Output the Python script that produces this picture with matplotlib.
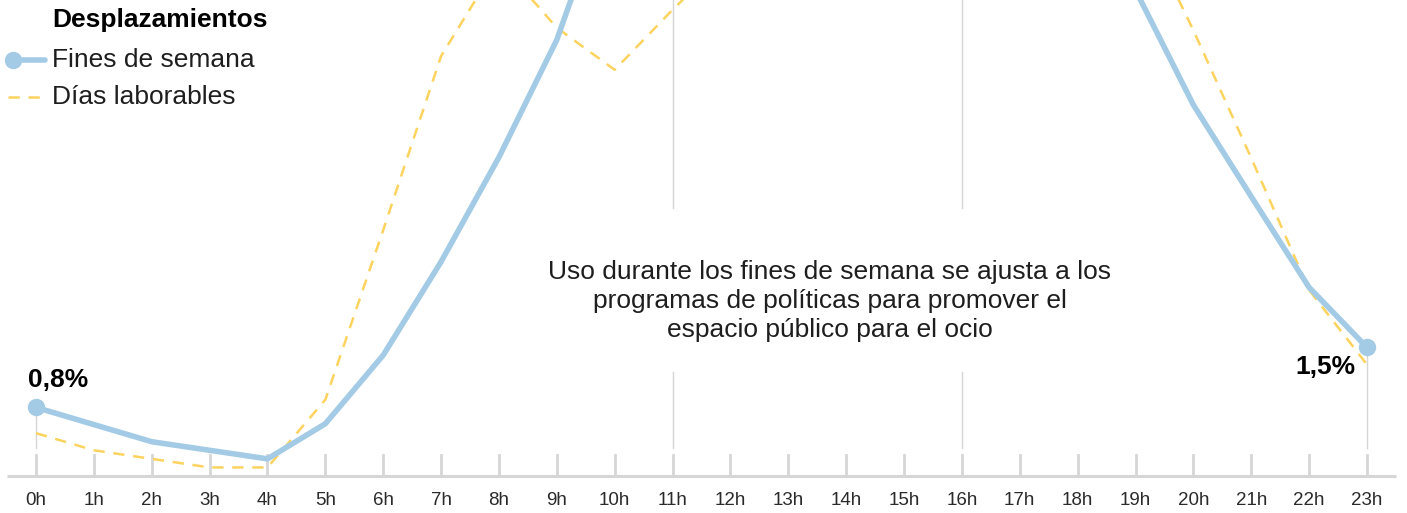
import numpy as np
import matplotlib
matplotlib.use("Agg")
import matplotlib.pyplot as plt

# ── 데이터 ────────────────────────────────────────────────────────────────
hours = list(range(24))
hour_labels = [f"{h}h" for h in hours]

# % de desplazamientos por hora (el centro del día queda recortado por arriba)
fines_semana = [0.80, 0.60, 0.40, 0.30, 0.20, 0.61, 1.41, 2.50, 3.72, 5.09,
                7.00, 7.20, 7.10, 6.90, 6.70, 6.60, 6.80, 6.90, 6.50, 5.67,
                4.33, 3.26, 2.20, 1.50]
dias_laborables = [0.50, 0.30, 0.20, 0.10, 0.10, 0.89, 2.87, 4.90, 6.00, 5.23,
                   4.74, 5.44, 6.10, 6.30, 6.20, 6.00, 6.20, 6.60, 6.80, 6.60,
                   5.20, 3.71, 2.17, 1.30]

BLUE = "#a3cbe5"
YELLOW = "#fdd35f"
GRID = "#d6d6d6"
FONT = "Liberation Sans"

W, H = 1407, 513
PX_H = (1367 - 36) / 23      # px por hora
PX_V = 85.7                   # px por 1 %
Y0 = 476                      # píxel de la línea base

fig = plt.figure(figsize=(W / 100, H / 100), dpi=100)
ax = fig.add_axes([0, 0, 1, 1])
ax.set_xlim(-36 / PX_H, 23 + (W - 1367) / PX_H)
ax.set_ylim(-(H - Y0) / PX_V, Y0 / PX_V)
ax.axis("off")

# línea base y marcas
ax.plot([-0.5, 23.5], [0, 0], color=GRID, lw=2.2, solid_capstyle="butt", zorder=1)
for h in hours:
    ax.plot([h, h], [0, 0.245], color=GRID, lw=2, zorder=1)
    ax.text(h, -0.29, hour_labels[h], ha="center", va="center",
            fontsize=13.5, color="#2a2a2a", family=FONT)

# líneas de referencia
for h in (11, 16):
    ax.plot([h, h], [3.13, 6], color=GRID, lw=1, zorder=1)
    ax.plot([h, h], [0.33, 1.21], color=GRID, lw=1, zorder=1)
ax.plot([0, 0], [0.33, fines_semana[0]], color=GRID, lw=1, zorder=1)
ax.plot([23, 23], [0.33, fines_semana[-1]], color=GRID, lw=1, zorder=1)

# series
ax.plot(hours, dias_laborables, color=YELLOW, lw=1.8, ls=(0, (4.5, 3.5)), zorder=2)
ax.plot(hours, fines_semana, color=BLUE, lw=4, zorder=3,
        solid_joinstyle="round", solid_capstyle="round")
ax.plot([hours[0], hours[-1]], [fines_semana[0], fines_semana[-1]], "o",
        color=BLUE, ms=11.5, zorder=4)

# etiquetas de extremos
ax.text(-0.14, 1.12, "0,8%", ha="left", va="center", fontsize=19,
        fontweight="bold", family=FONT)
ax.text(22.8, 1.27, "1,5%", ha="right", va="center", fontsize=19,
        fontweight="bold", family=FONT)

# anotación
ax.text(13.72, 2.04,
        "Uso durante los fines de semana se ajusta a los\n"
        "programas de políticas para promover el\n"
        "espacio público para el ocio",
        ha="center", va="center", fontsize=19, linespacing=1.27,
        color="#1e1e1e", family=FONT)

# leyenda manual
def px(x, y):
    return ax.transData.inverted().transform(fig.transFigure.transform((x / W, 1 - y / H)))

tx, ty = px(52, 20)
ax.text(tx, ty, "Desplazamientos", ha="left", va="center", fontsize=19,
        fontweight="bold", family=FONT)
tx, ty = px(52, 60)
ax.text(tx, ty, "Fines de semana", ha="left", va="center", fontsize=19,
        color="#1e1e1e", family=FONT)
tx, ty = px(52, 97)
ax.text(tx, ty, "Días laborables", ha="left", va="center", fontsize=19,
        color="#1e1e1e", family=FONT)

(ax1, ay1), (ax2, _) = px(13, 60), px(45, 60)
ax.plot([ax1, ax2], [ay1, ay1], color=BLUE, lw=4, solid_capstyle="round")
ax.plot([ax1], [ay1], "o", color=BLUE, ms=11.5)
(bx1, by1), (bx2, _) = px(8, 97), px(45, 97)
ax.plot([bx1, bx2], [by1, by1], color=YELLOW, lw=1.8, ls=(0, (4.5, 3.5)))

fig.savefig("out.png", dpi=100)
